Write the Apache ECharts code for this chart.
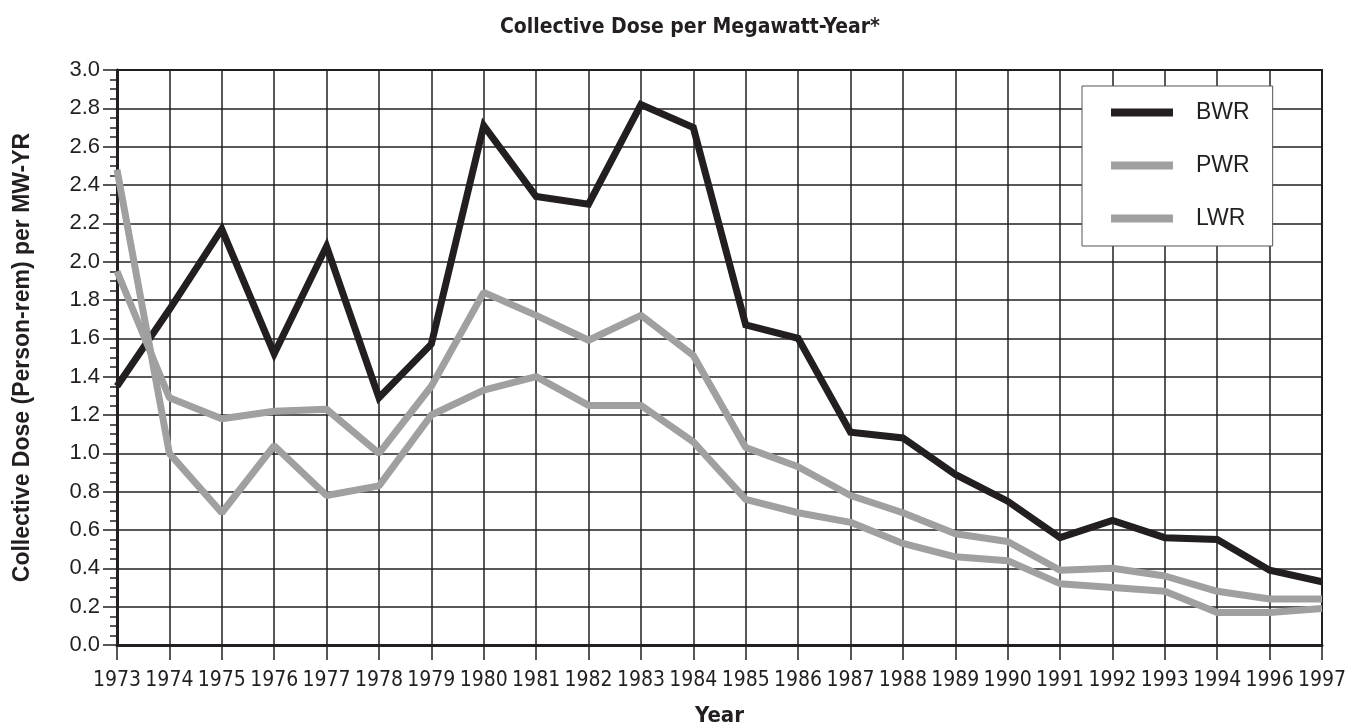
<!DOCTYPE html>
<html>
<head>
<meta charset="utf-8">
<title>Collective Dose per Megawatt-Year</title>
<script src="https://cdn.jsdelivr.net/npm/echarts@6/dist/echarts.min.js"></script>
<style>
    html, body { margin: 0; padding: 0; background: #fff; }
    #main { width: 1355px; height: 728px; }
</style>
</head>
<body>
<div id="main"></div>
<script type="text/javascript">
// 年份 (no 1995 in the source)
var years = ['1973', '1974', '1975', '1976', '1977', '1978', '1979', '1980', '1981', '1982',
    '1983', '1984', '1985', '1986', '1987', '1988', '1989', '1990', '1991', '1992',
    '1993', '1994', '1996', '1997'];

var bwr = [1.35, 1.75, 2.17, 1.52, 2.08, 1.29, 1.57, 2.71, 2.34, 2.30,
    2.82, 2.70, 1.67, 1.60, 1.11, 1.08, 0.89, 0.75, 0.56, 0.65,
    0.56, 0.55, 0.39, 0.33];

var pwr = [2.48, 1.00, 0.69, 1.04, 0.78, 0.83, 1.20, 1.33, 1.40, 1.25,
    1.25, 1.06, 0.76, 0.69, 0.64, 0.53, 0.46, 0.44, 0.32, 0.30,
    0.28, 0.17, 0.17, 0.19];

var lwr = [1.95, 1.29, 1.18, 1.22, 1.23, 1.00, 1.35, 1.84, 1.72, 1.59,
    1.72, 1.51, 1.03, 0.93, 0.78, 0.69, 0.58, 0.54, 0.39, 0.40,
    0.36, 0.28, 0.24, 0.24];

var ink = '#231f20';
var grey = '#a0a0a0';
var narrow = "'Liberation Sans Narrow', 'DejaVu Sans Condensed', sans-serif";
var plain = "'Liberation Sans', Arial, sans-serif";

var chart = echarts.init(document.getElementById('main'));
var option = {
    backgroundColor: '#fff',
    animation: false,
    title: {
        text: 'Collective Dose per Megawatt-Year*',
        left: 685,
        textAlign: 'center',
        top: 12,
        textStyle: {
            fontFamily: narrow,
            fontWeight: 'bold',
            fontSize: 21,
            color: ink
        }
    },
    legend: {
        orient: 'vertical',
        left: 1082,
        top: 86,
        padding: [15, 23, 16, 29],
        itemGap: 30,
        itemWidth: 62,
        itemHeight: 8,
        icon: 'rect',
        backgroundColor: '#fff',
        borderColor: '#555',
        borderWidth: 1,
        textStyle: {
            fontFamily: plain,
            fontSize: 23,
            lineHeight: 23,
            color: ink,
            padding: [0, 0, 0, 18]
        },
        data: ['BWR', 'PWR', 'LWR']
    },
    grid: {
        left: 117,
        right: 33,
        top: 70,
        bottom: 83,
        containLabel: false,
        outerBoundsMode: 'none',
        show: true,
        borderColor: ink,
        borderWidth: 2
    },
    xAxis: {
        type: 'category',
        data: years,
        boundaryGap: false,
        name: 'Year',
        nameLocation: 'middle',
        nameGap: 60,
        nameTextStyle: {
            fontFamily: narrow,
            fontWeight: 'bold',
            fontSize: 22,
            color: ink
        },
        axisLine: { lineStyle: { color: ink, width: 3 } },
        axisTick: { length: 15, alignWithLabel: true, lineStyle: { color: ink, width: 1.5 } },
        axisLabel: {
            fontFamily: narrow,
            fontSize: 21,
            color: ink,
            margin: 25,
            interval: 0
        },
        splitLine: { show: true, lineStyle: { color: ink, width: 1.5 } }
    },
    yAxis: {
        type: 'value',
        min: 0,
        max: 3,
        interval: 0.2,
        name: 'Collective Dose (Person-rem) per MW-YR',
        nameLocation: 'middle',
        nameRotate: 90,
        nameGap: 83,
        nameTextStyle: {
            fontFamily: plain,
            fontWeight: 'bold',
            fontSize: 23,
            color: ink
        },
        axisLine: { show: true, lineStyle: { color: ink, width: 3 } },
        axisTick: { show: true, length: 14, lineStyle: { color: ink, width: 1.5 } },
        minorTick: { show: true, splitNumber: 4, length: 7, lineStyle: { color: ink, width: 1.5 } },
        axisLabel: {
            fontFamily: plain,
            fontSize: 22,
            color: ink,
            margin: 17,
            formatter: function (v) { return v.toFixed(1); }
        },
        splitLine: { show: true, lineStyle: { color: ink, width: 1.5 } }
    },
    series: [
        {
            name: 'BWR',
            type: 'line',
            data: bwr,
            symbol: 'none',
            color: ink,
            lineStyle: { color: ink, width: 7, join: 'miter' }
        },
        {
            name: 'PWR',
            type: 'line',
            data: pwr,
            symbol: 'none',
            color: grey,
            lineStyle: { color: grey, width: 7 }
        },
        {
            name: 'LWR',
            type: 'line',
            data: lwr,
            symbol: 'none',
            color: grey,
            lineStyle: { color: grey, width: 7 }
        }
    ]
};
chart.setOption(option);
</script>
</body>
</html>
